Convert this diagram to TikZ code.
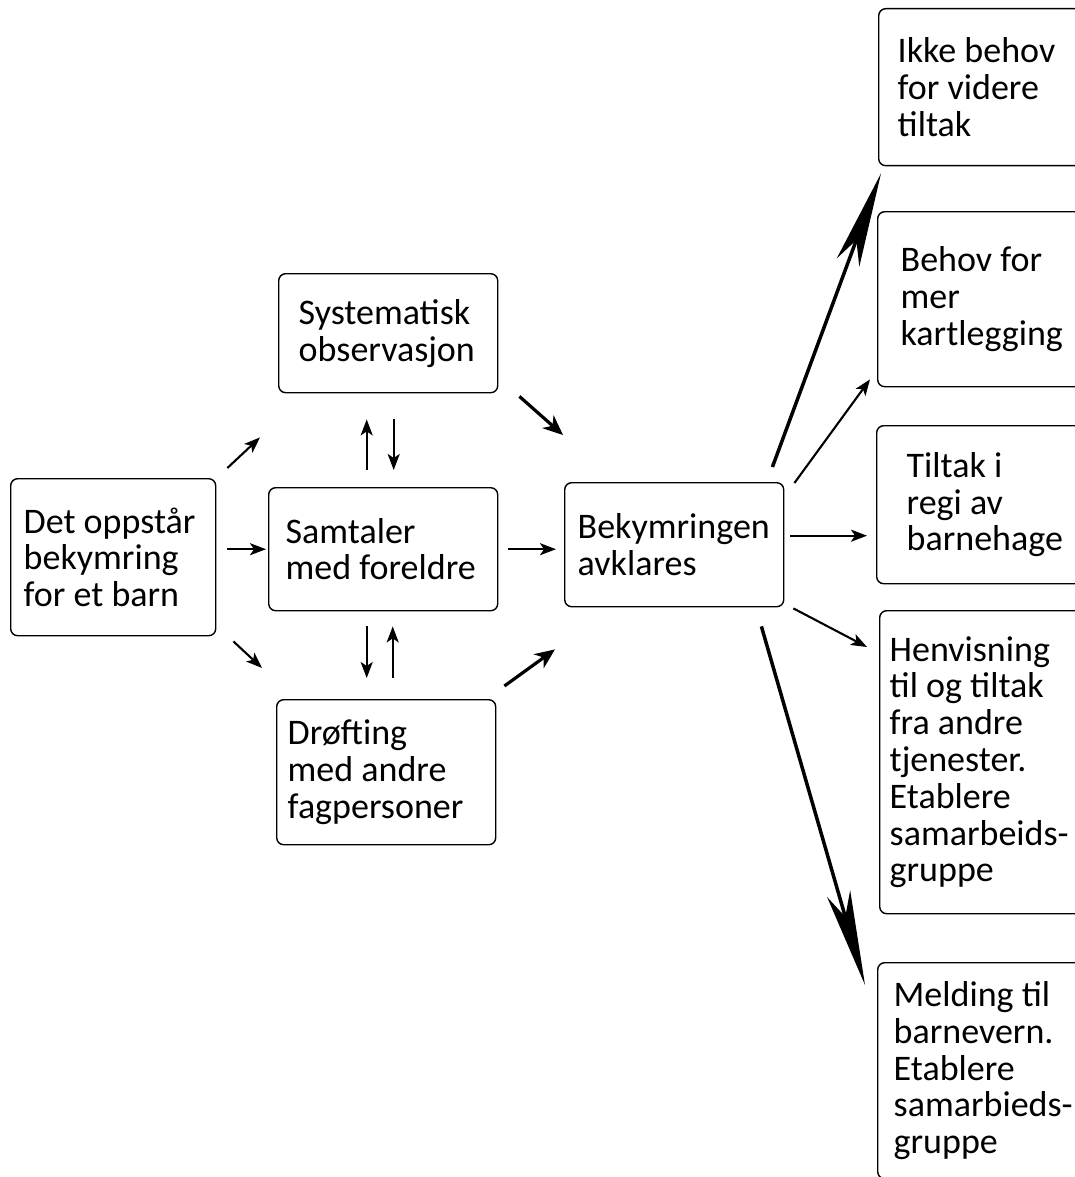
\documentclass[tikz,border=0pt]{standalone}
\usepackage{fontspec}
\setmainfont{Carlito}
\usetikzlibrary{
	arrows.meta
}

\tikzset{
	box/.style={draw, line width=1.4pt, rounded corners=7pt, anchor=north west,
		align=left, inner ysep=0pt, font=\fontsize{36}{36.8}\selectfont,
		execute at begin node={\spaceskip=0pt\xspaceskip=0pt\hyphenpenalty=10000}},
	arr/.style={line width=2.1pt, -{Stealth[length=16pt,width=12pt,inset=4pt]}},
	boldarr/.style={line width=3.2pt, -{Stealth[length=20pt,width=17pt,inset=6pt]}},
	longarr/.style={line width=3.5pt, -{Stealth[length=95pt,width=24pt,inset=24pt]}}
}

\begin{document}
\begin{tikzpicture}[x=1pt,y=-1pt]
		\path[use as bounding box] (0,0) rectangle (1075,1177);
		\clip (0,0) rectangle (1075,1177);
		\draw
			node[box,text width=179pt,inner xsep=13pt,minimum height=157pt] (det)   at (10,478)  {Det oppstår\\bekymring\\for et barn}
			node[box,text width=179pt,inner xsep=20pt,minimum height=119pt] (sys)   at (278,273) {Systematisk\\observasjon}
			node[box,text width=195pt,inner xsep=17pt,minimum height=123pt] (sam)   at (268,487) {Samtaler\\med foreldre}
			node[box,text width=197pt,inner xsep=11pt,minimum height=145pt] (drof)  at (276,699) {Drøfting\\med andre\\fagpersoner}
			node[box,text width=193pt,inner xsep=13pt,minimum height=124pt] (bek)   at (564,482) {Bekymringen\\avklares}

			node[box,text width=200pt,inner xsep=19pt,minimum height=157pt] (ikke)  at (878,8)   {Ikke behov\\for videre\\tiltak}
			node[box,text width=200pt,inner xsep=23pt,minimum height=175pt] (behov) at (877,211) {Behov for\\mer\\kartlegging}
			node[box,text width=200pt,inner xsep=30pt,minimum height=158pt] (tilt)  at (876,425) {Tiltak i\\regi av\\barnehage}
			node[box,text width=200pt,inner xsep=10pt,minimum height=303pt] (henv)  at (879,610) {Henvisning\\til og tiltak\\fra andre\\tjenester.\\Etablere\\samarbeids-\\gruppe}
			node[box,text width=200pt,inner xsep=16pt,minimum height=216pt] (meld)  at (877,962) {Melding til\\barnevern.\\Etablere\\samarbieds-\\gruppe}

			([shift={(11,-10)}]det.north east)  edge[arr] ([shift={(-18,44)}]sys.south west)
			(det.east |- sam.west)              edge[arr,shorten <=11pt,shorten >=2pt] (sam.west)
			([shift={(17,5)}]det.south east)    edge[arr] ([shift={(-14,-31)}]drof.north west)

			([shift={(-16.5,-17)}]sam.north)    edge[arr] ([shift={(-21.5,26)}]sys.south)
			([shift={(5.5,26)}]sys.south)       edge[arr] ([shift={(10.5,-17)}]sam.north)
			([shift={(-16.5,15)}]sam.south)     edge[arr] ([shift={(-19.5,-21)}]drof.north)
			([shift={(6.5,-21)}]drof.north)     edge[arr] ([shift={(9.5,15)}]sam.south)

			([shift={(21,3)}]sys.south east)    edge[boldarr] ([shift={(-1,-47)}]bek.north west)
			(sam.east)                          edge[arr,shorten <=10pt,shorten >=8pt] (bek.west |- sam.east)
			([shift={(8,-13)}]drof.north east)  edge[boldarr] ([shift={(-9,42)}]bek.south west)

			([shift={(-12,-15)}]bek.north east) edge[longarr] ([shift={(3,7)}]ikke.south west)
			([shift={(10,1)}]bek.north east)    edge[arr] ([shift={(-7,-8)}]behov.south west)
			([shift={(6,-9)}]bek.east)          edge[arr] ([shift={(-9,31)}]tilt.west)
			([shift={(9,1)}]bek.south east)     edge[arr] ([shift={(-12,37)}]henv.north west)
			([shift={(-23,19)}]bek.south east)  edge[longarr] ([shift={(-12,23)}]meld.north west)
		;
	\end{tikzpicture}
\end{document}
